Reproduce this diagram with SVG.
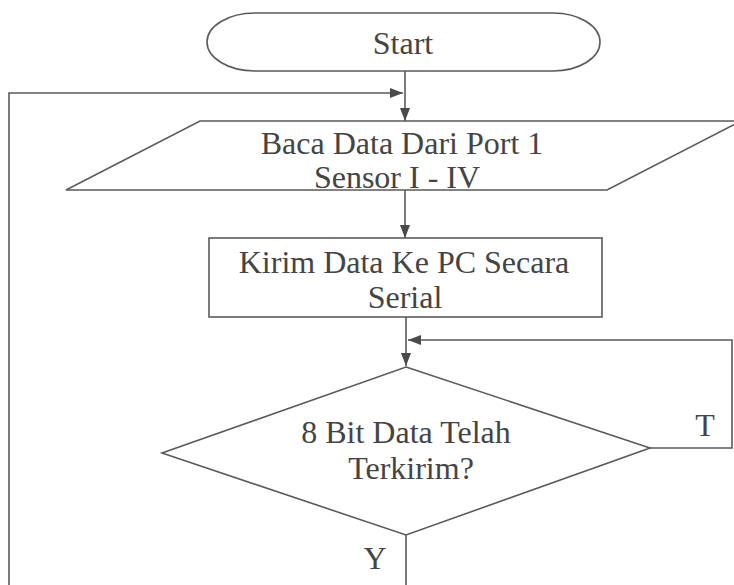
<svg xmlns="http://www.w3.org/2000/svg" width="734" height="585" viewBox="0 0 734 585">
  <style>
    .shape { fill: #ffffff; stroke: #5a5a5a; stroke-width: 1.6; }
    .line { fill: none; stroke: #5a5a5a; stroke-width: 1.6; }
    .label { font-family: "Liberation Serif", "Times New Roman", serif; font-size: 32px; fill: #444444; text-anchor: middle; }
  </style>
  <defs>
    <marker id="arrow" markerUnits="userSpaceOnUse" markerWidth="14" markerHeight="12" refX="13" refY="6" orient="auto">
      <path d="M0,1 L13,6 L0,11 Z" fill="#4a4a4a"/>
    </marker>
  </defs>

  <rect width="734" height="585" fill="#ffffff"/>

  <!-- connectors -->
  <g id="connectors">
    <path class="line" d="M405,71 V121" marker-end="url(#arrow)"/>
    <path class="line" d="M9,585 V93 H403" marker-end="url(#arrow)"/>
    <path class="line" d="M405,190 V238" marker-end="url(#arrow)"/>
    <path class="line" d="M406,317 V366" marker-end="url(#arrow)"/>
    <path class="line" d="M650,448 H732 V340 H408" marker-end="url(#arrow)"/>
    <path class="line" d="M406,535 V585"/>
  </g>

  <!-- terminal -->
  <g id="start">
    <path class="shape" d="M255,13 H553 A47,29 0 0 1 553,71 H255 A48,29 0 0 1 255,13 Z"/>
    <text class="label" x="403" y="54">Start</text>
  </g>

  <!-- input -->
  <g id="read-port">
    <polygon class="shape" points="200,121 741,121 607,190 66,190"/>
    <text class="label" x="402" y="154">Baca Data Dari Port 1</text>
    <text class="label" x="397" y="188">Sensor I - IV</text>
  </g>

  <!-- process -->
  <g id="send-serial">
    <rect class="shape" x="209" y="238" width="393" height="79"/>
    <text class="label" x="404" y="273">Kirim Data Ke PC Secara</text>
    <text class="label" x="405" y="308">Serial</text>
  </g>

  <!-- decision -->
  <g id="check-sent">
    <polygon class="shape" points="406,367 650,448 406,535 162,453"/>
    <text class="label" x="406" y="443">8 Bit Data Telah</text>
    <text class="label" x="411" y="479">Terkirim?</text>
  </g>

  <!-- branch labels -->
  <g id="labels">
    <text class="label" x="705" y="436">T</text>
    <text class="label" x="375" y="569">Y</text>
  </g>
</svg>
